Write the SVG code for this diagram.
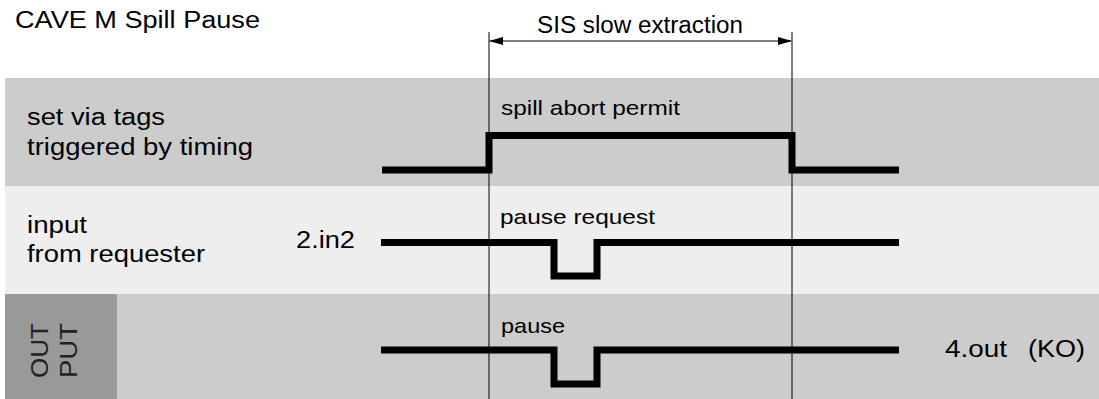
<svg xmlns="http://www.w3.org/2000/svg" width="1099" height="399" viewBox="0 0 1099 399">
<style>
text{font-family:"Liberation Sans",Arial,sans-serif;fill:#000}
.lbl{font-size:23px}
.sl{font-size:21px}
.sig{fill:none;stroke:#000;stroke-width:7;stroke-linejoin:miter}
.vl{stroke:#000;stroke-width:1;fill:none}
</style>
<defs>
<marker id="ah" markerWidth="14" markerHeight="8" refX="13" refY="4" orient="auto-start-reverse" markerUnits="userSpaceOnUse">
<path d="M0,0 L14,4 L0,8 Z" fill="#000"/>
</marker>
</defs>
<rect width="1099" height="399" fill="#fff"/>
<g id="bands">
<rect x="5" y="78" width="1094" height="108" fill="#cccccc"/>
<rect x="5" y="186" width="1094" height="108" fill="#eeeeee"/>
<rect x="5" y="294" width="1094" height="105" fill="#cccccc"/>
</g>
<g id="out-box">
<rect x="5" y="294" width="112" height="105" fill="#999999"/>
<text class="lbl" transform="translate(48,350.5) rotate(-90)" text-anchor="middle" textLength="55" lengthAdjust="spacingAndGlyphs" style="fill:#222">OUT</text>
<text class="lbl" transform="translate(77,350.5) rotate(-90)" text-anchor="middle" textLength="55" lengthAdjust="spacingAndGlyphs" style="fill:#222">PUT</text>
</g>
<text class="lbl" x="15" y="28" textLength="245" lengthAdjust="spacingAndGlyphs">CAVE M Spill Pause</text>
<g id="row1-label">
<text class="lbl" x="27" y="125" textLength="138" lengthAdjust="spacingAndGlyphs">set via tags</text>
<text class="lbl" x="27" y="155" textLength="226" lengthAdjust="spacingAndGlyphs">triggered by timing</text>
</g>
<g id="row2-label">
<text class="lbl" x="27" y="233" textLength="60" lengthAdjust="spacingAndGlyphs">input</text>
<text class="lbl" x="27" y="262" textLength="178" lengthAdjust="spacingAndGlyphs">from requester</text>
<text class="lbl" x="296" y="248" textLength="59" lengthAdjust="spacingAndGlyphs">2.in2</text>
</g>
<g id="connectors">
<line class="vl" x1="489" y1="32" x2="489" y2="399"/>
<line class="vl" x1="792" y1="32" x2="792" y2="399"/>
<line class="vl" x1="490" y1="41" x2="791" y2="41" marker-start="url(#ah)" marker-end="url(#ah)"/>
</g>
<text class="lbl" x="537" y="33" textLength="206" lengthAdjust="spacingAndGlyphs">SIS slow extraction</text>
<g id="signal-permit">
<path class="sig" d="M382,170 H489 V135.5 H792 V170 H899"/>
<text class="sl" x="501" y="115" textLength="179" lengthAdjust="spacingAndGlyphs">spill abort permit</text>
</g>
<g id="signal-request">
<path class="sig" d="M381,242.5 H554 V276 H597 V242.5 H899"/>
<text class="sl" x="500" y="224" textLength="155" lengthAdjust="spacingAndGlyphs">pause request</text>
</g>
<g id="signal-pause">
<path class="sig" d="M381,350 H554 V384 H597 V350 H899"/>
<text class="sl" x="501" y="333" textLength="64" lengthAdjust="spacingAndGlyphs">pause</text>
<text class="lbl" x="945" y="357" textLength="62" lengthAdjust="spacingAndGlyphs">4.out</text>
<text class="lbl" x="1028" y="357" textLength="57" lengthAdjust="spacingAndGlyphs">(KO)</text>
</g>
</svg>
